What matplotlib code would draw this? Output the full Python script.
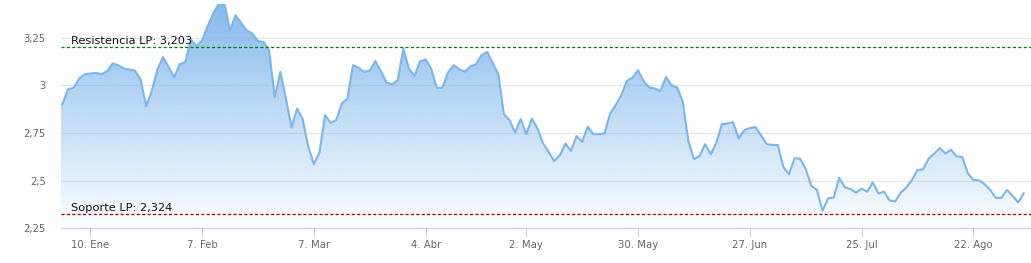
import numpy as np
import pandas as pd
import matplotlib
matplotlib.use("Agg")
import matplotlib.pyplot as plt
from matplotlib.colors import LinearSegmentedColormap

# trading days (ordinal axis, Easter holidays removed)
dates = pd.bdate_range("2021-12-31", "2022-09-02")
dates = dates.drop(pd.to_datetime(["2022-04-15", "2022-04-18"]))

price = [
    2.895, 2.90, 2.98, 2.987, 3.036, 3.059, 3.062, 3.066, 3.059, 3.074,
    3.115, 3.106, 3.088, 3.083, 3.078, 3.031, 2.891, 2.971, 3.083, 3.149,
    3.097, 3.043, 3.111, 3.122, 3.242, 3.205, 3.237, 3.312, 3.377, 3.43,
    3.43, 3.289, 3.368, 3.328, 3.289, 3.272, 3.232, 3.228, 3.184, 2.937,
    3.071, 2.931, 2.779, 2.879, 2.823, 2.678, 2.587, 2.648, 2.844, 2.803,
    2.818, 2.905, 2.931, 3.106, 3.092, 3.071, 3.078, 3.128, 3.074, 3.015,
    3.006, 3.027, 3.193, 3.088, 3.05, 3.127, 3.136, 3.088, 2.987, 2.987,
    3.068, 3.106, 3.085, 3.073, 3.10, 3.111, 3.158, 3.176, 3.118, 3.059,
    2.849, 2.818, 2.753, 2.823, 2.744, 2.826, 2.774, 2.695, 2.651, 2.603,
    2.634, 2.695, 2.657, 2.734, 2.704, 2.783, 2.744, 2.744, 2.748, 2.853,
    2.896, 2.949, 3.024, 3.041, 3.08, 3.022, 2.989, 2.984, 2.971, 3.043,
    3.001, 2.989, 2.914, 2.708, 2.613, 2.629, 2.692, 2.639, 2.699, 2.797,
    2.80, 2.807, 2.722, 2.765, 2.776, 2.781, 2.739, 2.692, 2.688, 2.687,
    2.573, 2.533, 2.618, 2.615, 2.561, 2.473, 2.451, 2.342, 2.407, 2.412,
    2.515, 2.465, 2.456, 2.437, 2.458, 2.442, 2.491, 2.433, 2.442, 2.397,
    2.39, 2.437, 2.465, 2.503, 2.556, 2.559, 2.617, 2.643, 2.671, 2.643,
    2.662, 2.627, 2.625, 2.538, 2.503, 2.502, 2.482, 2.451, 2.41, 2.41,
    2.451, 2.421, 2.386, 2.433,
]

tick_dates = ["2022-01-10", "2022-02-07", "2022-03-07", "2022-04-04", "2022-05-02",
              "2022-05-30", "2022-06-27", "2022-07-25", "2022-08-22"]
tick_labels = ["10. Ene", "7. Feb", "7. Mar", "4. Abr", "2. May",
               "30. May", "27. Jun", "25. Jul", "22. Ago"]

y_ticks = [2.25, 2.5, 2.75, 3.0, 3.25]
y_tick_labels = ["2,25", "2,5", "2,75", "3", "3,25"]

resistencia = 3.203
soporte = 2.324

x = np.arange(len(price))
ticks = dates.get_indexer(pd.to_datetime(tick_dates))

W, H = 1031, 263
fig = plt.figure(figsize=(W / 100, H / 100), dpi=100)
ax = fig.add_axes([61 / W, (H - 228.3) / H, (W - 61) / W, (228.3 - 3.5) / H])

ymin, ymax = 2.25, 3.43
xmin, xmax = 0.76, 174.3

# gradient area
poly = ax.fill_between(x, price, ymin, color="none", lw=0)
cmap = LinearSegmentedColormap.from_list(
    "area", [(124 / 255, 181 / 255, 236 / 255, 0.02), (124 / 255, 181 / 255, 236 / 255, 0.93)])
grad = np.linspace(0, 1, 256).reshape(-1, 1)
img = ax.imshow(grad, extent=[xmin, xmax, ymin, ymax], origin="lower", aspect="auto",
                cmap=cmap, zorder=2, interpolation="bilinear")
img.set_clip_path(poly.get_paths()[0], transform=ax.transData)

ax.plot(x, price, color="#7cb5ec", lw=1.5, zorder=3, solid_joinstyle="round")

# support / resistance
ax.axhline(resistencia, color="#008000", lw=0.9, ls=(0, (2.5, 1.8)), zorder=4)
ax.axhline(soporte, color="#a00000", lw=0.9, ls=(0, (2.5, 1.8)), zorder=4)
lbl_x = (71 - 61) / (W - 61)
tr = ax.get_yaxis_transform()
ax.annotate("Resistencia LP: " + f"{resistencia:.3f}".replace(".", ","), (lbl_x, resistencia),
            xycoords=tr, xytext=(0, 2.3), textcoords="offset points",
            fontsize=8.2, color="#111111", va="baseline", ha="left", zorder=5)
ax.annotate("Soporte LP: " + f"{soporte:.3f}".replace(".", ","), (lbl_x, soporte),
            xycoords=tr, xytext=(0, 2.3), textcoords="offset points",
            fontsize=8.2, color="#111111", va="baseline", ha="left", zorder=5)

ax.set_xlim(xmin, xmax)
ax.set_ylim(ymin, ymax)

ax.set_yticks(y_ticks)
ax.set_yticklabels(y_tick_labels)
ax.set_xticks(ticks)
ax.set_xticklabels(tick_labels)

ax.grid(axis="y", color="#e6e6e6", lw=1, zorder=0)
ax.set_axisbelow(True)
for s in ["top", "right", "left"]:
    ax.spines[s].set_visible(False)
ax.spines["bottom"].set_color("#ccd6eb")
ax.spines["bottom"].set_linewidth(1)
ax.spines["bottom"].set_zorder(6)

ax.tick_params(axis="y", length=0, pad=11, labelsize=7.2, labelcolor="#666666")
ax.tick_params(axis="x", length=6.5, width=0.8, color="#ccd6eb", pad=2,
               labelsize=7.3, labelcolor="#666666")

fig.savefig("out.png", dpi=100)
